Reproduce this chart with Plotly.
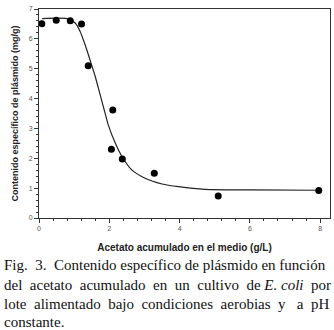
import plotly.graph_objects as go

# Measured data points
acetato = [0.08, 0.49, 0.89, 1.21, 1.40, 2.10, 2.06, 2.37, 3.28, 5.10, 7.96]
plasmido = [6.51, 6.62, 6.61, 6.50, 5.10, 3.62, 2.30, 1.98, 1.50, 0.74, 0.92]

# Fitted curve
curva_x = [0.09, 0.79, 1.03, 1.17, 1.31, 1.45, 1.60, 1.74, 1.88, 1.97, 2.17, 2.36,
           2.64, 3.02, 3.50, 3.97, 4.73, 6.01, 7.96]
curva_y = [6.68, 6.68, 6.53, 6.25, 5.81, 5.30, 4.74, 4.13, 3.51, 3.12, 2.51, 2.06,
           1.61, 1.33, 1.14, 1.05, 0.96, 0.94, 0.93]

x_ticks = [0, 2, 4, 6, 8]
y_ticks = [0, 1, 2, 3, 4, 5, 6, 7]

NB = "\u00a0"
caption_words = [
    ["Fig.", "3.", "Contenido", "específico", "de", "plásmido", "en", "función"],
    ["del", "acetato", "acumulado", "en", "un", "cultivo", "de", "<i>E.", "coli</i>", "por"],
    ["lote", "alimentado", "bajo", "condiciones", "aerobias", "y", "a", "pH"],
    ["constante."],
]
# number of (non-breaking) spaces in each gap, to mimic the justified caption
caption_gaps = [
    [2, 2, 1, 1, 1, 1, 1],
    [2, 2, 2, 2, 2, 2, 1, 1, 2],
    [2, 2, 2, 2, 2, 3, 2],
    [],
]


def join_words(words, gaps):
    out = words[0]
    for w, g in zip(words[1:], gaps):
        out += NB * g + w
    return out


caption_lines = [join_words(w, g) for w, g in zip(caption_words, caption_gaps)]

fig = go.Figure()
fig.add_trace(go.Scatter(x=curva_x, y=curva_y, mode="lines",
                         line=dict(color="#222222", width=1.2, shape="spline", smoothing=0.6),
                         hoverinfo="skip", showlegend=False))
fig.add_trace(go.Scatter(x=acetato, y=plasmido, mode="markers",
                         marker=dict(color="black", size=7),
                         showlegend=False))

axis_common = dict(showgrid=False, zeroline=False, showline=True, linecolor="#333333",
                   linewidth=1, mirror=True, ticks="outside", ticklen=4, tickwidth=1,
                   tickcolor="#333333", automargin=False,
                   tickfont=dict(family="Liberation Sans, Arial, sans-serif", size=7, color="#555555"))

fig.update_xaxes(range=[0, 8.28], tickvals=x_ticks, **axis_common,
                 minor=dict(dtick=0.4, ticks="outside", ticklen=2, tickcolor="#333333"),
                 title=dict(text="<b>Acetato acumulado en el medio (g/L)</b>",
                            font=dict(family="Liberation Sans, Arial, sans-serif", size=10, color="#222222"),
                            standoff=12))
fig.update_yaxes(range=[0, 7], tickvals=y_ticks, **axis_common,
                 minor=dict(dtick=0.2, ticks="outside", ticklen=2, tickcolor="#333333"),
                 title=dict(text="<b>Contenido específico de plásmido (mg/g)</b>",
                            font=dict(family="Liberation Sans, Arial, sans-serif", size=9, color="#222222"),
                            standoff=8))

PLOT_H = 330 - 9 - 112
PLOT_W = 334 - 39 - 4
annotations = []
centers = [265, 285, 304, 322]
for line, yc in zip(caption_lines, centers):
    annotations.append(dict(text=line, xref="paper", yref="paper",
                            x=-37 / PLOT_W, y=1 - (yc - 9) / PLOT_H,
                            xanchor="left", yanchor="middle", showarrow=False,
                            font=dict(family="Liberation Serif, Times New Roman, serif",
                                      size=15, color="#111111")))

fig.update_layout(width=334, height=330,
                  margin=dict(l=39, r=4, t=9, b=112, autoexpand=False),
                  paper_bgcolor="white", plot_bgcolor="white",
                  annotations=annotations)

fig.write_html("out.html", config={"displayModeBar": False},
               post_script="document.body.style.margin='0';document.body.style.overflow='hidden';")
